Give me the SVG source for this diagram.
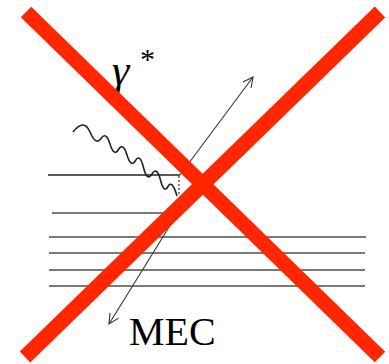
<svg xmlns="http://www.w3.org/2000/svg" width="389" height="364" viewBox="0 0 389 364">
  <style>
    .thin{stroke:#222;stroke-width:1.3;fill:none}
    .wave{stroke:#222;stroke-width:1.6;fill:none}
    .layer{stroke:#7a7a7a;stroke-width:2;fill:none}
    .arr{stroke:#333;stroke-width:1.1;fill:none}
    .cross{stroke:#ff2600;stroke-width:15;stroke-linecap:butt;fill:none}
    .lbl{fill:#000}
  </style>
  <defs>
    <marker id="vhead" viewBox="0 0 12 12" refX="11" refY="6" markerWidth="12" markerHeight="12" markerUnits="userSpaceOnUse" orient="auto">
      <path d="M1,1 L11,6 L1,11" fill="none" stroke="#333" stroke-width="1.1"/>
    </marker>
  </defs>
  <rect width="389" height="364" fill="#fff"/>
  <g id="surface">
    <line class="thin" x1="48" y1="175" x2="180" y2="175"/>
    <line class="layer" x1="52" y1="213" x2="172" y2="213"/>
    <line class="layer" x1="49" y1="237" x2="366" y2="237"/>
    <line class="layer" x1="49" y1="253" x2="365" y2="253"/>
    <line class="layer" x1="49" y1="270" x2="365" y2="270"/>
    <line class="layer" x1="49" y1="286" x2="365" y2="286"/>
  </g>
  <g id="photon">
    <path class="wave" d="M73,132 Q84,118 90,132 Q96,146 101,138.5 Q106,131 110,144 Q114,157 118.5,149.5 Q123,142 127,155 Q131,168 135.5,160.5 Q140,153 143.5,167.5 Q147,182 152,174 Q157,166 160.5,180 Q164,194 168,186.5 Q172,179 177,196"/>
    <line x1="179" y1="176" x2="179" y2="194" stroke="#333" stroke-width="1.2" stroke-dasharray="2,2"/>
  </g>
  <g id="connectors">
    <line class="arr" x1="180" y1="175" x2="253" y2="77" marker-end="url(#vhead)"/>
    <line class="arr" x1="192" y1="190" x2="109" y2="324" marker-end="url(#vhead)"/>
  </g>
  <g id="labels" font-family="'Liberation Serif', 'Times New Roman', serif">
    <text class="lbl" x="112" y="85" font-size="44" font-style="italic">γ</text>
    <text class="lbl" x="140" y="69" font-size="30">*</text>
    <text class="lbl" x="129" y="345" font-size="40">MEC</text>
  </g>
  <g id="cross">
    <line class="cross" x1="26" y1="12" x2="380" y2="357"/>
    <line class="cross" x1="380" y1="12" x2="25" y2="357"/>
  </g>
</svg>
